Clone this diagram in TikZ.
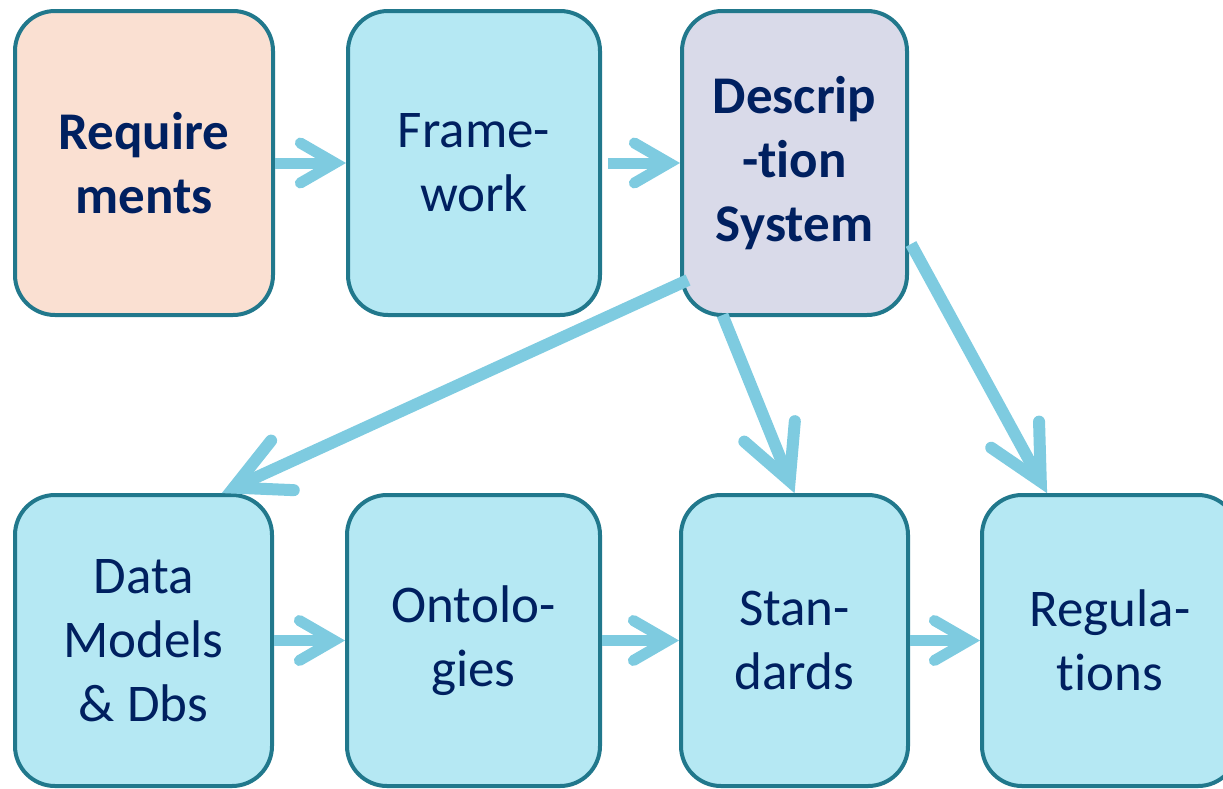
\documentclass[tikz,border=0pt]{standalone}
\usepackage{fontspec}
\setmainfont{Carlito}[Ligatures=NoCommon]
\usetikzlibrary{calc}
\definecolor{bordc}{RGB}{33,120,140}
\definecolor{arrc}{RGB}{126,203,224}
\definecolor{boxblue}{RGB}{181,232,243}
\definecolor{boxpeach}{RGB}{250,224,210}
\definecolor{boxlav}{RGB}{217,218,233}
\definecolor{txtc}{RGB}{0,32,96}
\tikzset{
  box/.style={draw=bordc, line width=4pt, rounded corners=40pt, align=center,
    text=txtc, font=\fontsize{53}{64}\selectfont, inner sep=0pt},
  arrline/.style={draw=arrc, line width=#1},
  arrline/.default=11pt
}
% #1 start, #2 tip, #3 line width, #4 miter back-off, #5 arm length, #6 half angle
\newcommand{\conn}[6]{%
  \coordinate (tmpP) at ($(#2)!#4!(#1)$);
  \draw[arrline=#3, line cap=butt] (#1) -- (tmpP);
  \draw[arrline=#3, line join=miter, line cap=round]
    ($(tmpP)!#5!#6:(#1)$) -- (tmpP) -- ($(tmpP)!#5!-#6:(#1)$);
}
\begin{document}
\begin{tikzpicture}[x=1pt,y=-1pt]
\useasboundingbox (0,0) rectangle (1223,788);
\clip (0,0) rectangle (1223,788);
% top row
\node[box, fill=boxpeach, minimum width=258pt, minimum height=304pt] (req) at (144,163) {\bfseries Require\\\bfseries ments};
\node[box, fill=boxblue, minimum width=252pt, minimum height=304pt] (frame) at (474,163) {Frame-\\work};
\node[box, fill=boxlav, minimum width=225pt, minimum height=304pt] (desc) at (794.5,163) {\bfseries Descrip\\\bfseries -tion\\\bfseries System};
% bottom row
\node[box, fill=boxblue, minimum width=257pt, minimum height=291pt] (data) at (143.5,640.5) {Data\\Models\\\& Dbs};
\node[box, fill=boxblue, minimum width=253pt, minimum height=291pt] (onto) at (473.5,640.5) {Ontolo-\\gies};
\node[box, fill=boxblue, minimum width=227pt, minimum height=291pt] (stan) at (794.5,640.5) {Stan-\\dards};
\node[box, fill=boxblue, minimum width=256pt, minimum height=291pt] (reg) at (1110,640.5) {Regula-\\tions};
% connector end points
\coordinate (fs) at ($(frame.east)+(6,0)$);
\coordinate (d3s) at ($(desc.south west)+(8,-37)$);
\coordinate (d3t) at ($(data.north east)+(-52,0)$);
\coordinate (d4s) at ($(desc.south)+(-72,-2)$);
\coordinate (d5s) at ($(desc.east)+(2,81)$);
\coordinate (d5t) at ($(reg.north west)+(67,0)$);
% horizontal connectors
\conn{req.east}{frame.west}{11pt}{11pt}{40pt}{30}
\conn{fs}{desc.west}{11pt}{11pt}{40pt}{30}
\conn{data.east}{onto.west}{11pt}{11pt}{40pt}{30}
\conn{onto.east}{stan.west}{11pt}{11pt}{40pt}{30}
\conn{stan.east}{reg.west}{11pt}{11pt}{40pt}{30}
% diagonal connectors
\conn{d3s}{d3t}{12pt}{13pt}{60pt}{27}
\conn{d4s}{stan.north}{12pt}{13pt}{60pt}{27}
\conn{d5s}{d5t}{12pt}{13pt}{60pt}{27}
\end{tikzpicture}
\end{document}
